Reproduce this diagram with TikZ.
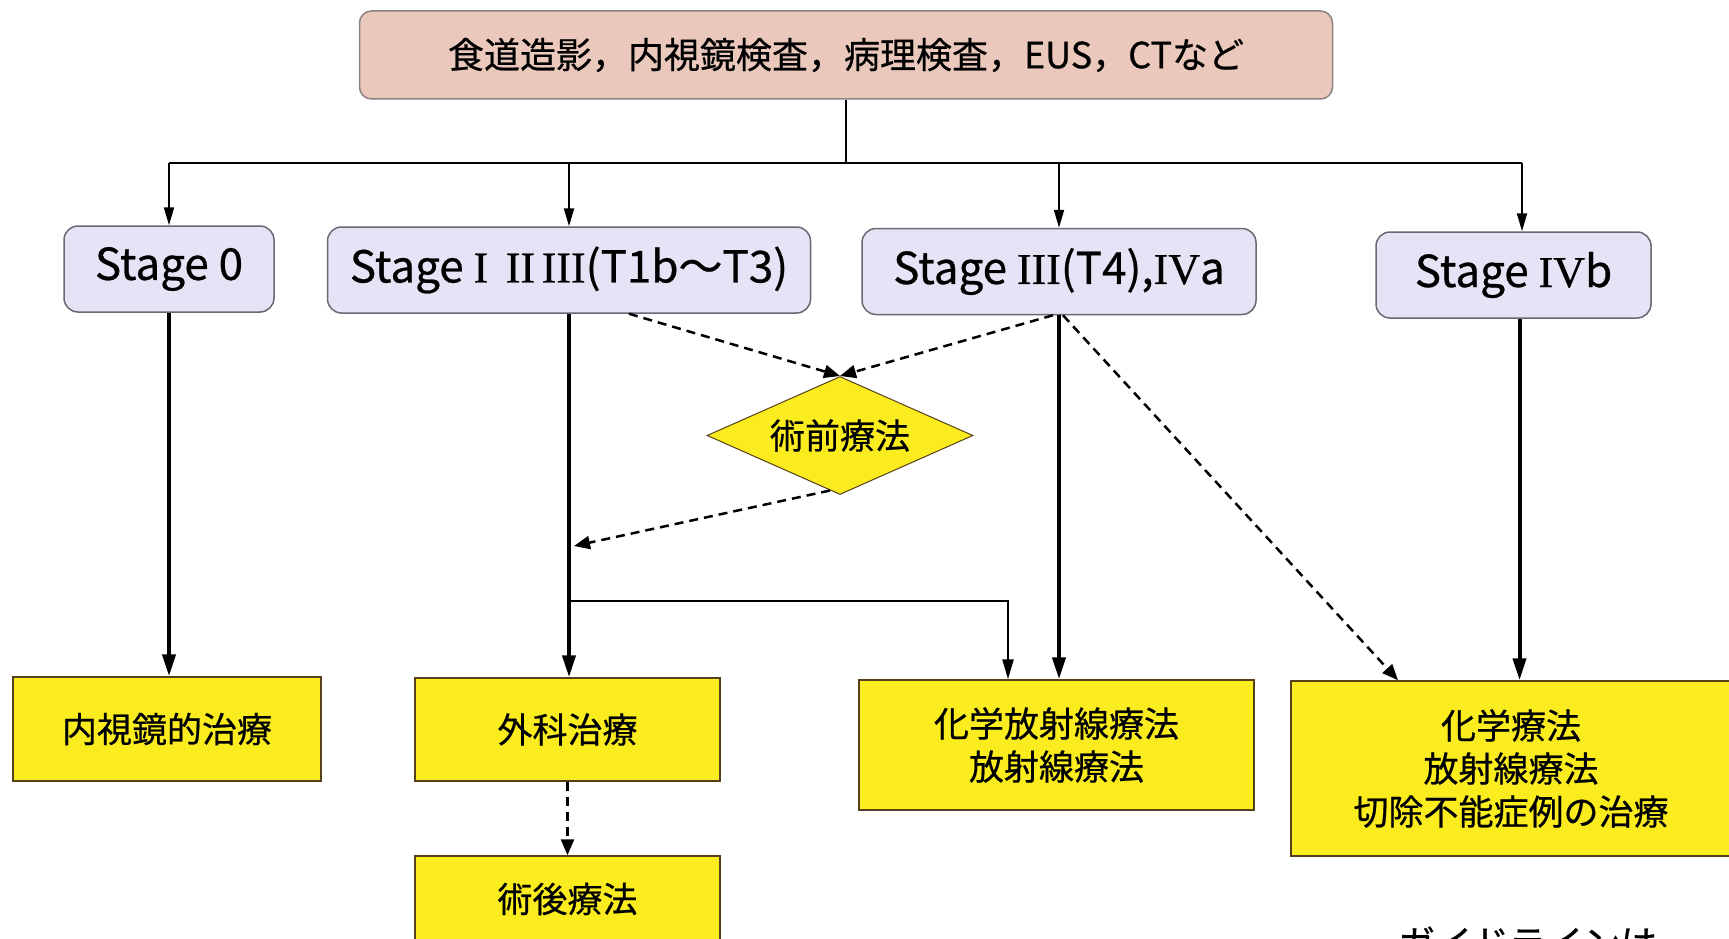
\documentclass[tikz,border=0pt]{standalone}
\usepackage{fontspec}
\setmainfont{Noto Sans CJK JP}[FakeBold=0.6]
\newfontfamily\romnum{Liberation Serif}[FakeBold=0.6]
\usetikzlibrary{arrows.meta,shapes.geometric}
\definecolor{topfill}{RGB}{234,200,188}
\definecolor{topdraw}{RGB}{140,130,130}
\definecolor{stagefill}{RGB}{228,228,246}
\definecolor{stagedraw}{RGB}{105,105,115}
\definecolor{yel}{RGB}{250,236,30}
\definecolor{treatdraw}{RGB}{85,65,25}
\newcommand{\rn}[1]{{\romnum #1}}
\tikzset{
  topbox/.style={draw=topdraw, fill=topfill, rounded corners=12pt, line width=1.5pt,
    minimum width=973pt, minimum height=88pt, inner sep=0pt,
    font=\fontsize{36}{40}\selectfont},
  stagebox/.style={draw=stagedraw, fill=stagefill, rounded corners=14pt, line width=1.5pt,
    minimum height=86pt, inner sep=0pt, font=\fontsize{44}{50}\selectfont},
  treat/.style={draw=treatdraw, fill=yel, line width=1.5pt, inner sep=0pt,
    align=center, font=\fontsize{35}{43}\selectfont},
  decision/.style={diamond, draw=treatdraw, fill=yel, line width=1pt, aspect=2.25,
    minimum width=266pt, minimum height=118pt, inner sep=0pt,
    font=\fontsize{35}{40}\selectfont},
  thinline/.style={line width=2pt},
  thinarrow/.style={line width=2pt, -{Triangle[length=18pt,width=10pt]}},
  thickarrow/.style={line width=4pt, -{Triangle[length=22pt,width=13pt]}},
  medarrow/.style={line width=2.5pt, -{Triangle[length=20pt,width=11pt]}},
  dasharrow/.style={line width=2.5pt, dash pattern=on 9pt off 6pt,
    -{Triangle[length=16pt,width=13pt]}},
  cuttext/.style={font=\fontsize{37}{40}\selectfont, inner sep=0pt},
}
\begin{document}
\begin{tikzpicture}[x=1pt,y=-1pt]
\useasboundingbox (0,0) rectangle (1729,939);
\begin{scope}
\clip (0,0) rectangle (1729,939);
\fill[white] (0,0) rectangle (1729,939);

% nodes
\node[topbox] (top) at (846,55) {食道造影，内視鏡検査，病理検査，EUS，CTなど};

\node[stagebox, minimum width=210pt] (s0) at (169,269) {Stage 0};
\node[stagebox, minimum width=483pt] (s1) at (569,270) {Stage \rn{I}\hspace{0.4em}\rn{II}\hspace{0.15em}\rn{III}(T1b〜T3)};
\node[stagebox, minimum width=394pt] (s2) at (1059,271.5) {Stage \rn{III}(T4),\rn{IV}a};
\node[stagebox, minimum width=275pt] (s3) at (1513.5,275) {Stage \rn{IV}b};

\node[decision] (pre) at (840,435.5) {術前療法};

\node[treat, minimum width=308pt, minimum height=104pt] (b0) at (167,729) {内視鏡的治療};
\node[treat, minimum width=305pt, minimum height=103pt] (b1) at (567.5,729.5) {外科治療};
\node[treat, minimum width=305pt, minimum height=86pt] (b2) at (567.5,899) {術後療法};
\node[treat, minimum width=395pt, minimum height=130pt] (b3) at (1056.5,745) {化学放射線療法\\放射線療法};
\node[treat, minimum width=440pt, minimum height=175pt] (b4) at (1511,768.5) {化学療法\\放射線療法\\切除不能症例の治療};

\node[cuttext, anchor=base west] (cut) at (1398,957) {ガイドラインは};

% coordinates
\coordinate (bus) at (846,163);
\coordinate (br) at (569,601);
\coordinate (preend) at (574,546);

% top distribution
\draw[thinline] (top.south) -- (bus);
\draw[thinline] (s0.north |- bus) -- ([xshift=8.5pt]s3.north |- bus);
\draw[thinarrow] (s0.north |- bus) -- (s0.north);
\draw[thinarrow] (s1.north |- bus) -- (s1.north);
\draw[thinarrow] (s2.north |- bus) -- (s2.north);
\draw[thinarrow] ([xshift=8.5pt]s3.north |- bus) -- ([xshift=8.5pt]s3.north);

% main vertical arrows
\draw[thickarrow] (s0.south) -- (s0.south |- b0.north);
\draw[thickarrow] (s1.south) -- (s1.south |- b1.north);
\draw[thickarrow] (s2.south) -- (s2.south |- b3.north);
\draw[thickarrow] ([xshift=6pt]s3.south) -- ([xshift=6pt]s3.south |- b4.north);

% branch from Stage I-III to chemoradiation
\draw[medarrow] (br) -| ([xshift=-48.5pt]b3.north);

% dashed connectors
\draw[dasharrow] ([xshift=60pt]s1.south) -- (pre.north);
\draw[dasharrow] ([xshift=-6pt]s2.south) -- (pre.north);
\draw[dasharrow] ([xshift=-10pt,yshift=4.5pt]pre.south) -- (preend);
\draw[dasharrow] ([xshift=4pt]s2.south) -- ([xshift=-113pt]b4.north);
\draw[dasharrow] (b1.south) -- (b2.north);
\end{scope}
\end{tikzpicture}
\end{document}
